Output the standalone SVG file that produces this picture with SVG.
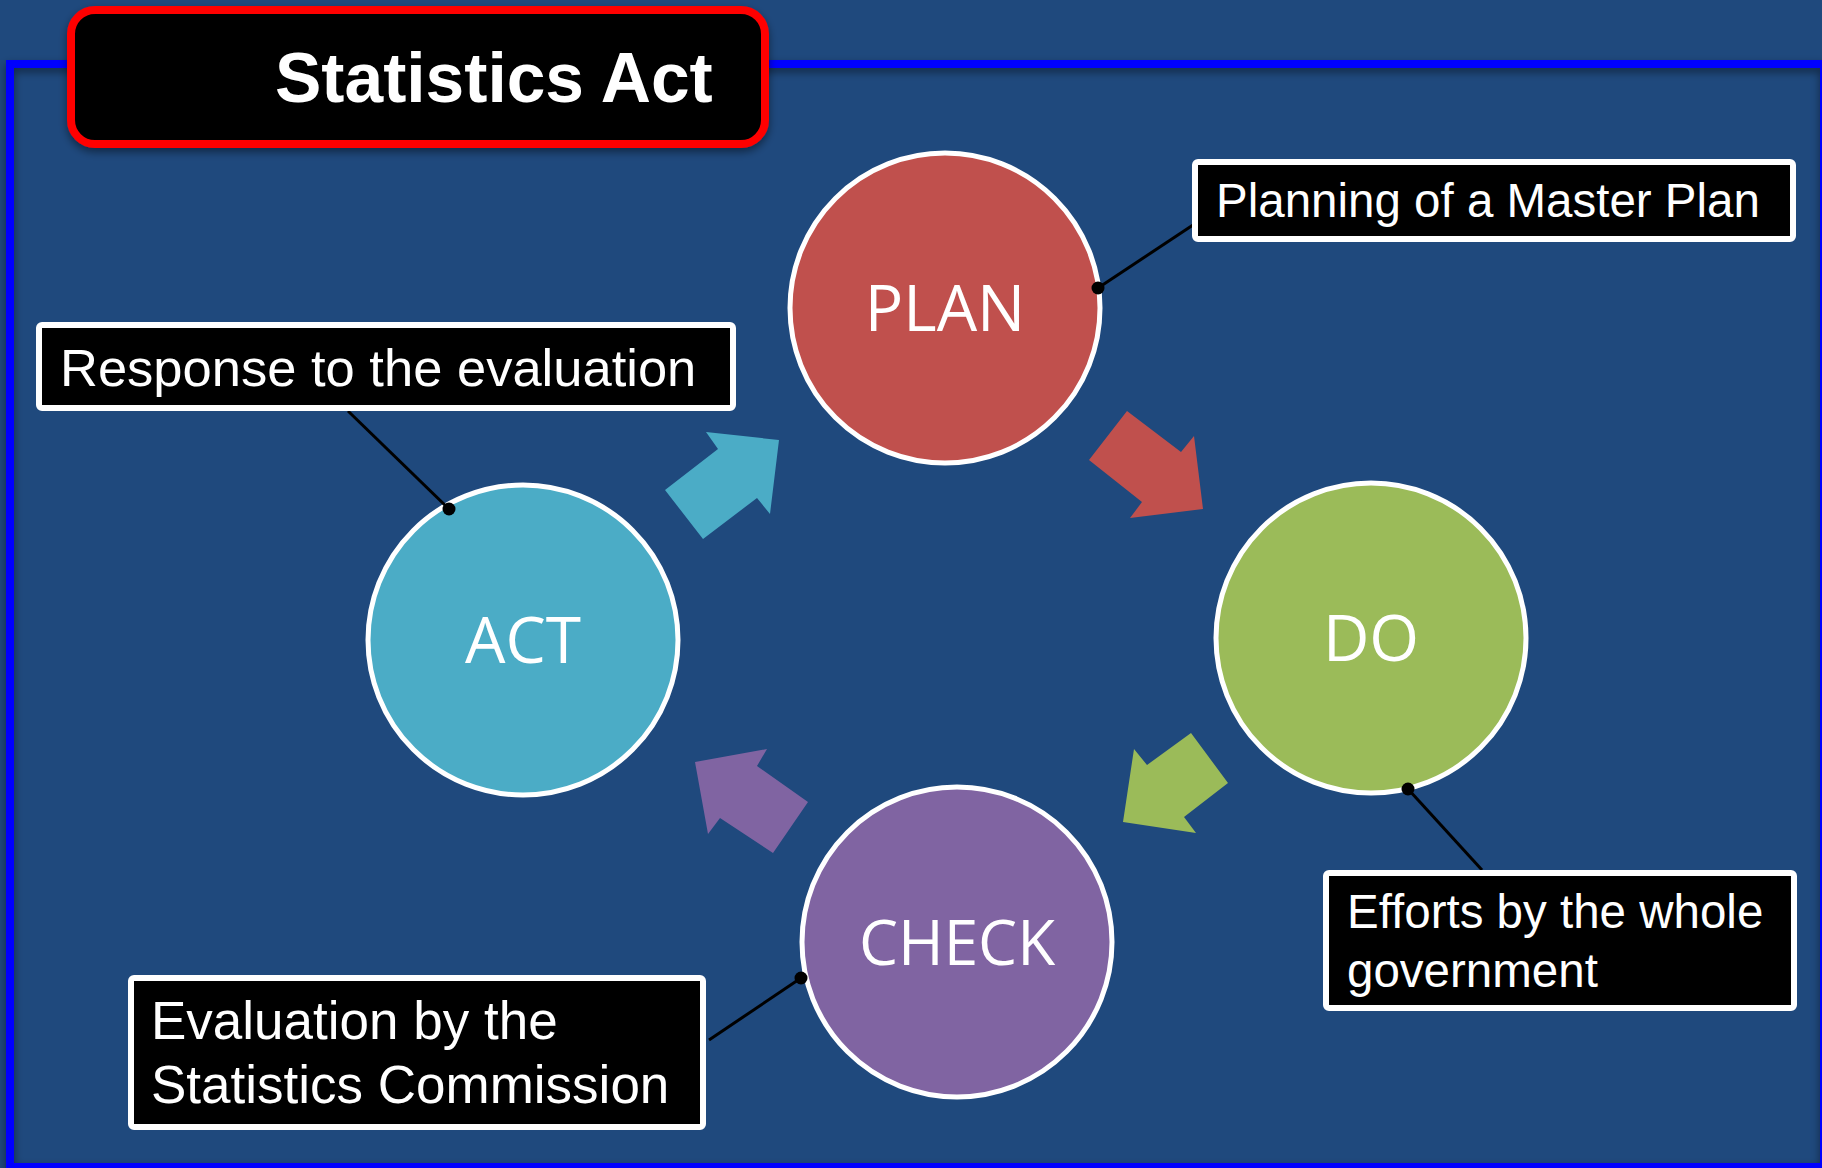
<svg xmlns="http://www.w3.org/2000/svg" width="1822" height="1168" viewBox="0 0 1822 1168">
<defs>
<style>
.lbl rect{fill:#000;stroke:#fff;stroke-width:6}
.lbl text{font-family:"Liberation Sans",Arial,sans-serif;fill:#fff}
.node circle{stroke:#fff;stroke-width:5}
.node text{font-family:"Open Sans","Noto Sans",sans-serif;fill:#fff;text-anchor:middle}
.lead line{stroke:#000;stroke-width:3}
.lead circle{fill:#000}
</style>
<filter id="sh" x="-10%" y="-10%" width="120%" height="130%">
<feDropShadow dx="0" dy="4" stdDeviation="4" flood-color="#000" flood-opacity="0.45"/>
</filter>
</defs>
<rect x="0" y="0" width="1822" height="1168" fill="#1F497D"/>
<rect x="10" y="64" width="1814" height="1103" fill="none" stroke="#0000FF" stroke-width="8" filter="url(#sh)"/>
<g id="title">
<rect x="71" y="10" width="694" height="134" rx="24" fill="#000" stroke="#FF0000" stroke-width="8" filter="url(#sh)"/>
<text x="275" y="102" font-family="Liberation Sans,Arial,sans-serif" font-weight="bold" font-size="69.5" fill="#fff">Statistics Act</text>
</g>
<g id="connectors">
<polygon fill="#C0504D" points="1127,411 1181,452 1194,436 1203,509 1130,518 1142,502 1089,460"/>
<polygon fill="#4BACC6" points="706,432 779,440 770,514 757,498 703,539 665,490 718,449"/>
<polygon fill="#9BBB59" points="1191,733 1228,783 1184,817 1196,833 1123,822 1134,749 1147,765"/>
<polygon fill="#8064A2" points="695,762 767,749 757,766 808,802 773,853 720,818 708,834"/>
</g>
<g id="plan" class="node"><circle cx="945" cy="308" r="155" fill="#C0504D"/><text x="945" y="331" font-size="64">PLAN</text></g>
<g id="do" class="node"><circle cx="1371" cy="638" r="155" fill="#9BBB59"/><text x="1371" y="661" font-size="64">DO</text></g>
<g id="act" class="node"><circle cx="523" cy="640" r="155" fill="#4BACC6"/><text x="523" y="663" font-size="64">ACT</text></g>
<g id="check" class="node"><circle cx="957" cy="942" r="155" fill="#8064A2"/><text x="957" y="965" font-size="62">CHECK</text></g>
<g id="leaders" class="lead">
<line x1="1098" y1="288" x2="1193" y2="225"/><circle cx="1098" cy="288" r="6.5"/>
<line x1="449" y1="509" x2="348" y2="411"/><circle cx="449" cy="509" r="6.5"/>
<line x1="1408" y1="789" x2="1482" y2="870"/><circle cx="1408" cy="789" r="6.5"/>
<line x1="801" y1="978" x2="709" y2="1040"/><circle cx="801" cy="978" r="6.5"/>
</g>
<g id="lbl-plan" class="lbl"><rect x="1195" y="162" width="598" height="77" rx="3"/><text x="1216" y="217" font-size="47.5">Planning of a Master Plan</text></g>
<g id="lbl-act" class="lbl"><rect x="39" y="325" width="694" height="83" rx="3"/><text x="60" y="386" font-size="52.5">Response to the evaluation</text></g>
<g id="lbl-do" class="lbl"><rect x="1326" y="873" width="468" height="135" rx="3"/><text x="1347" y="928" font-size="47.5">Efforts by the whole</text><text x="1347" y="987" font-size="47.5">government</text></g>
<g id="lbl-check" class="lbl"><rect x="131" y="978" width="572" height="149" rx="3"/><text x="151" y="1039" font-size="53">Evaluation by the</text><text x="151" y="1103" font-size="53">Statistics Commission</text></g>
</svg>
